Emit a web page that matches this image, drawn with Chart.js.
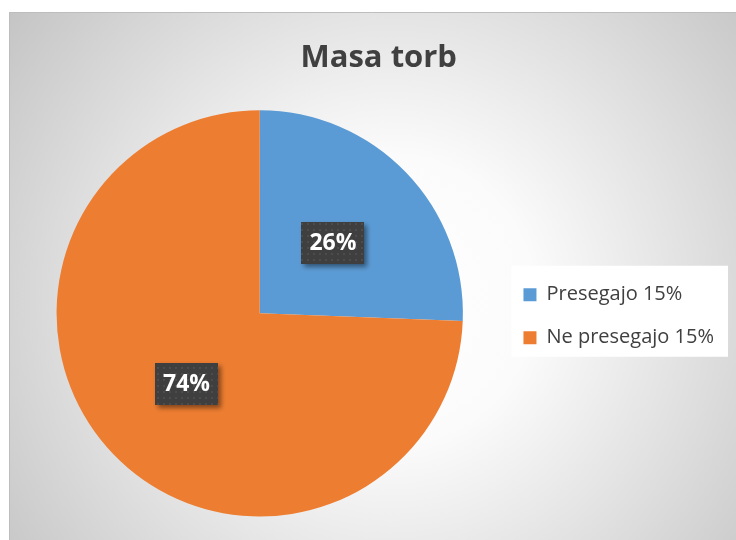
<!DOCTYPE html>
<html>
<head>
<meta charset="utf-8">
<script src="https://cdn.jsdelivr.net/npm/chart.js@4.4.1/dist/chart.umd.min.js"></script>
<style>
  html, body { margin: 0; padding: 0; background: #ffffff; }
  #wrap { width: 736px; height: 540px; position: relative; }
  canvas { display: block; }
</style>
</head>
<body>
<div id="wrap"><canvas id="c" width="736" height="540"></canvas></div>
<script>
const titleText = "Masa torb";
const categories = ["Presegajo 15%", "Ne presegajo 15%"];
const shares = [25.6, 74.4];
const sliceColors = ["#5B9BD5", "#ED7D31"];

const FONT = "'Open Sans', 'Noto Sans', sans-serif";

function makePattern(ctx) {
  const p = document.createElement('canvas');
  p.width = 6; p.height = 6;
  const pc = p.getContext('2d');
  pc.fillStyle = '#3f3f3f';
  pc.fillRect(0, 0, 6, 6);
  pc.fillStyle = '#4c4c4c';
  pc.fillRect(1, 1, 2, 2);
  return ctx.createPattern(p, 'repeat');
}

const bgPlugin = {
  id: 'bg',
  afterLayout(chart) {
    // centre the title over the framed region and lower the legend block
    const tb = chart.titleBlock;
    if (tb) { tb.left += 7.25; tb.right += 7.25; }
    const lg = chart.legend;
    if (lg) { lg.top += 52; lg.bottom += 52; }
  },
  beforeDraw(chart) {
    const ctx = chart.ctx;
    ctx.save();
    ctx.fillStyle = '#ffffff';
    ctx.fillRect(0, 0, chart.width, chart.height);
    const g = ctx.createRadialGradient(390, 300, 0, 390, 300, 480);
    g.addColorStop(0, '#ffffff');
    g.addColorStop(0.3, '#fbfbfb');
    g.addColorStop(1, '#c4c4c4');
    ctx.fillStyle = g;
    ctx.fillRect(9, 12, chart.width - 9, chart.height - 12);
    ctx.strokeStyle = '#bdbdbd';
    ctx.lineWidth = 1;
    ctx.beginPath();
    ctx.moveTo(9.5, chart.height);
    ctx.lineTo(9.5, 12.5);
    ctx.lineTo(chart.width, 12.5);
    ctx.stroke();
    // legend white panel
    const lg = chart.legend;
    if (lg && lg.legendHitBoxes && lg.legendHitBoxes.length) {
      const hb = lg.legendHitBoxes;
      let l = Infinity, t = Infinity, r = -Infinity, b = -Infinity;
      hb.forEach(h => { l = Math.min(l, h.left); t = Math.min(t, h.top); r = Math.max(r, h.left + h.width); b = Math.max(b, h.top + h.height); });
      ctx.fillStyle = '#ffffff';
      ctx.fillRect(l - 12, t - 19, (r - l) + 26, (b - t) + 28);
    }
    ctx.restore();
  }
};

const labelPlugin = {
  id: 'pctLabels',
  afterDatasetsDraw(chart) {
    const ctx = chart.ctx;
    const meta = chart.getDatasetMeta(0);
    const data = chart.data.datasets[0].data;
    const total = data.reduce((a, b) => a + b, 0);
    const pattern = makePattern(ctx);
    meta.data.forEach((arc, i) => {
      const pos = arc.tooltipPosition();
      const txt = Math.round(data[i] / total * 100) + '%';
      ctx.save();
      ctx.font = "bold 23px " + FONT;
      const w = 63, h = 42;
      const x = Math.round(pos.x - w / 2), y = Math.round(pos.y - h / 2);
      ctx.shadowColor = 'rgba(0,0,0,0.45)';
      ctx.shadowBlur = 5;
      ctx.shadowOffsetX = 3;
      ctx.shadowOffsetY = 3;
      ctx.fillStyle = pattern;
      ctx.fillRect(x, y, w, h);
      ctx.shadowColor = 'transparent';
      ctx.fillStyle = '#ffffff';
      ctx.textAlign = 'center';
      ctx.textBaseline = 'middle';
      ctx.fillText(txt, pos.x, pos.y + 1);
      ctx.restore();
    });
  }
};

new Chart(document.getElementById('c'), {
  type: 'pie',
  data: {
    labels: categories,
    datasets: [{
      data: shares,
      backgroundColor: sliceColors,
      borderWidth: 0,
      hoverOffset: 0,
      offset: 0
    }]
  },
  options: {
    responsive: false,
    animation: false,
    events: [],
    layout: { padding: { left: 19, right: 12, top: 12, bottom: 23.5 } },
    plugins: {
      title: {
        display: true,
        text: titleText,
        color: '#404040',
        font: { family: FONT, size: 31, weight: 'bold', lineHeight: 1.2 },
        padding: { top: 28, bottom: 33 }
      },
      legend: {
        display: true,
        position: 'right',
        align: 'center',
        labels: {
          color: '#404040',
          font: { family: FONT, size: 20 },
          boxWidth: 13,
          boxHeight: 13,
          padding: 23
        }
      },
      tooltip: { enabled: false }
    }
  },
  plugins: [bgPlugin, labelPlugin]
});
</script>
</body>
</html>
